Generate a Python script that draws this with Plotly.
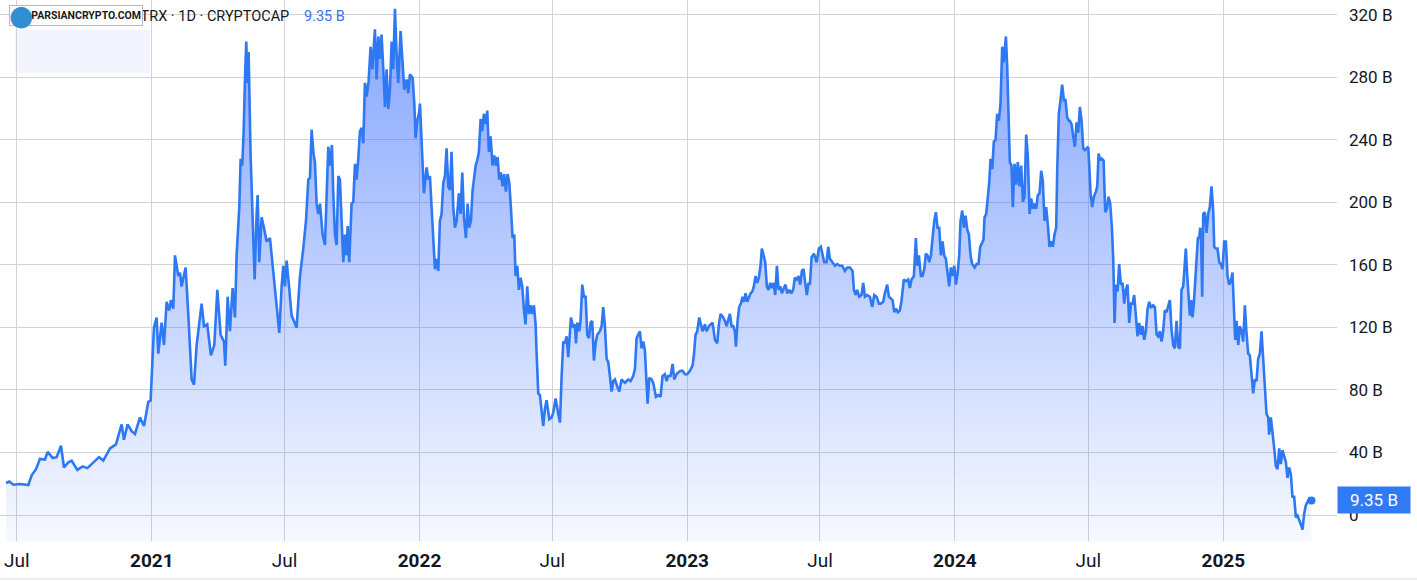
import plotly.graph_objects as go
import pandas as pd

START_DATE = "2020-06-08"

# days since START_DATE
day_offset = [
    8.2, 12.7, 18.2, 27.3, 38.6, 43.2, 49.1, 54.5, 61.3, 65.0,
    71.8, 77.2, 83.2, 87.2, 93.2, 97.7, 105.4, 112.7, 119.1, 127.2,
    135.0, 140.9, 150.0, 158.1, 165.9, 169.0, 174.0, 179.5, 184.0, 190.8,
    196.3, 202.2, 205.4, 209.9, 213.6, 215.8, 220.4, 223.6, 227.2, 230.8,
    233.1, 236.3, 238.6, 243.1, 245.4, 247.6, 253.1, 256.7, 261.3, 264.5,
    268.1, 274.9, 278.1, 282.6, 287.6, 292.2, 296.3, 300.8, 305.4, 307.2,
    310.4, 313.5, 317.2, 320.4, 322.6, 326.3, 328.1, 330.3, 332.2, 334.0,
    335.8, 337.2, 339.0, 341.7, 344.4, 347.2, 349.9, 351.3, 353.5, 356.7,
    359.9, 363.5,
    368.1, 371.7, 374.9, 378.1, 380.8, 384.0, 386.3, 388.5, 390.8, 394.5,
    397.6, 400.8, 404.4, 409.0, 411.3, 413.5, 417.2, 420.4, 422.6, 424.9,
    427.2, 429.4, 431.7, 434.0, 436.3, 439.9, 443.1, 447.6, 449.9, 452.6,
    454.4, 456.7, 459.0, 461.3, 463.5, 465.8, 468.1, 470.3, 472.6, 474.0,
    476.2, 479.4, 481.7, 484.0, 486.2, 488.5, 490.8, 493.1, 495.3, 497.6,
    499.9, 502.6, 505.3, 507.6, 509.0, 511.2, 513.5, 515.8, 518.1, 520.3,
    522.6, 524.9, 527.1, 529.4, 531.7, 534.0, 536.2, 538.5, 540.8, 543.0,
    546.2, 548.9, 551.2, 554.4, 556.7, 558.9, 562.6, 564.9, 566.7, 568.9,
    571.2, 572.6, 574.9, 578.0, 581.7, 583.9, 586.2, 588.5, 590.8, 593.0,
    595.3, 597.6, 599.8, 602.1, 604.4, 606.7, 608.9, 611.2, 613.5, 615.7,
    618.0, 620.3, 622.6, 625.7, 628.0, 630.3, 632.6, 635.3, 637.6, 639.8,
    642.1, 644.4, 646.2, 648.5, 650.7, 653.0, 655.3, 657.6, 659.8, 662.6,
    664.4, 666.6, 668.9, 671.6, 673.9, 676.2, 678.5, 680.7, 683.0, 685.3,
    687.5, 689.8, 692.1, 694.4, 696.6, 698.9, 701.2, 703.0, 705.3, 707.5,
    709.8, 712.1, 714.4, 716.6, 718.9, 721.2, 723.4, 725.7, 728.0, 730.3,
    731.6, 733.9,
    736.2, 738.5, 740.7, 743.0, 745.3, 748.9, 752.1, 754.4, 757.6, 761.2,
    763.5, 765.7, 768.0, 770.3, 772.6, 774.8, 776.2, 778.5, 781.6, 783.9,
    785.3, 787.1, 789.8, 791.6, 793.9, 796.2, 798.5, 800.7, 803.0, 805.3,
    807.5, 809.8, 812.1, 814.4, 818.0, 820.3, 822.5, 824.8, 827.1, 829.4,
    831.6, 833.9, 836.2, 838.4, 841.6, 844.3, 847.5, 852.1, 856.6, 859.8,
    863.4, 865.7, 868.0, 870.2, 872.5, 874.8, 877.1, 879.3, 881.6, 883.0,
    885.2, 888.4, 890.7, 894.3, 897.5, 900.7, 903.4, 906.6, 908.9, 911.1,
    914.3, 917.1, 919.3, 922.5, 924.8, 927.9, 930.7, 933.9, 937.0, 940.7,
    944.3, 946.1, 948.4, 950.7, 953.4, 955.7, 957.9, 961.1, 963.4, 966.6,
    969.3, 971.6, 974.8, 977.9, 980.2, 982.5, 986.1, 988.4, 990.7, 992.9,
    995.2, 997.5, 999.8, 1002.0, 1003.4, 1005.7, 1007.9, 1010.2, 1012.5, 1014.3,
    1016.6, 1018.8, 1021.1, 1023.4, 1025.7, 1027.9, 1030.2, 1032.5, 1034.7, 1037.0,
    1038.8, 1041.1, 1043.4, 1045.6, 1047.9, 1050.2, 1052.5, 1054.7, 1057.0, 1059.3,
    1061.6, 1063.8, 1066.1, 1068.8, 1071.1, 1073.4, 1076.1, 1078.8, 1081.5, 1083.8,
    1086.6, 1088.8, 1091.1, 1093.4, 1095.6, 1097.9, 1100.2, 1102.4,
    1104.3, 1106.6, 1109.8, 1113.4, 1116.6, 1119.3, 1121.6, 1123.8, 1127.0, 1129.3,
    1131.6, 1134.7, 1138.4, 1141.6, 1145.2, 1148.4, 1152.0, 1155.2, 1158.8, 1162.5,
    1164.3, 1166.6, 1168.8, 1171.5, 1174.7, 1177.0, 1179.3, 1182.5, 1186.1, 1189.3,
    1192.0, 1195.2, 1198.4, 1201.1, 1204.3, 1206.5, 1209.7, 1212.0, 1214.3, 1217.0,
    1219.3, 1221.5, 1224.3, 1227.0, 1229.3, 1232.4, 1235.2, 1238.3, 1240.6, 1242.9,
    1246.1, 1248.8, 1250.6, 1252.9, 1255.6, 1257.9, 1260.2, 1262.4, 1264.7, 1267.0,
    1269.3, 1271.5, 1273.8, 1276.1, 1278.3, 1280.6, 1282.9, 1285.2, 1287.4, 1289.7,
    1292.0, 1294.2, 1296.5, 1298.8, 1301.1, 1303.3, 1305.6, 1307.9, 1309.7, 1312.0,
    1314.2, 1316.5, 1318.8, 1321.1, 1323.3, 1325.6, 1328.8, 1331.5, 1334.2, 1336.5,
    1338.8, 1341.0, 1342.4, 1344.7, 1346.9, 1348.8, 1350.6, 1352.9, 1355.1, 1357.4,
    1359.7, 1362.0, 1364.2, 1366.5, 1368.8, 1371.5, 1373.3, 1375.1, 1376.9, 1379.2,
    1381.0, 1383.3, 1385.6, 1387.8, 1390.1, 1392.4, 1394.7, 1396.9, 1399.2, 1401.5,
    1403.8, 1406.0, 1408.3, 1410.6, 1412.8, 1415.1, 1417.4, 1419.7, 1421.9, 1424.2,
    1426.5, 1428.7, 1431.0, 1433.3, 1435.6, 1437.8, 1440.1, 1441.5, 1443.7, 1446.0,
    1448.3, 1450.6, 1452.8, 1455.1, 1457.4,
    1458.8, 1461.1, 1463.3, 1465.6, 1467.9, 1470.2, 1472.4, 1474.7, 1477.0, 1479.2,
    1481.5, 1483.8, 1485.2, 1487.0, 1489.2, 1491.5, 1494.2, 1496.1, 1497.9, 1500.2,
    1502.4, 1504.7, 1507.0, 1509.2, 1511.5, 1513.8, 1516.1, 1517.9, 1519.7, 1521.5,
    1523.8, 1526.0, 1528.3, 1530.6, 1532.9, 1535.1, 1537.4, 1539.7, 1542.0, 1544.2,
    1546.5, 1548.8, 1551.0, 1553.3, 1555.6, 1557.9, 1560.1, 1562.4, 1564.7, 1567.0,
    1569.2, 1572.4, 1574.7, 1577.0, 1579.2, 1581.5, 1583.8, 1586.0, 1588.3, 1590.6,
    1592.8, 1595.1, 1597.4, 1599.7, 1601.9, 1604.2, 1606.5, 1608.8, 1611.0, 1613.3,
    1615.6, 1616.9, 1618.8, 1620.6, 1622.4, 1624.2, 1626.0, 1627.8, 1629.7, 1631.5,
    1633.3, 1635.1, 1636.5, 1637.8, 1639.2, 1640.6, 1642.8, 1645.1, 1647.4, 1649.6,
    1651.9, 1654.2, 1655.6, 1657.8, 1660.1, 1662.4, 1664.6, 1666.9, 1669.2, 1671.5,
    1673.7, 1676.0, 1678.3, 1680.5, 1681.9, 1684.2, 1686.0, 1688.3, 1690.5, 1692.8,
    1695.1, 1697.4, 1699.6, 1701.9, 1704.2, 1706.4, 1708.7, 1711.0, 1713.3, 1715.5,
    1717.8, 1720.1, 1722.4, 1724.6, 1726.9, 1729.2, 1730.5, 1732.8, 1735.1, 1737.4,
    1739.6, 1741.9, 1744.2, 1746.4, 1748.7, 1751.0, 1753.3, 1755.5, 1757.8, 1760.1,
    1762.3, 1764.6, 1766.9, 1769.2, 1771.4, 1773.7, 1776.0, 1778.2, 1780.5, 1782.8,
    1785.1, 1788.2,
]

# market cap, billions USD
value_b = [
    20.5, 21.4, 19.4, 19.8, 19.2, 25.4, 29.3, 35.9, 35.5, 40.4,
    36.4, 37.0, 44.3, 30.4, 33.7, 34.8, 28.9, 31.1, 30.0, 33.7,
    37.0, 34.8, 42.6, 45.2, 58.0, 48.1, 58.0, 53.6, 51.8, 62.4,
    56.9, 72.3, 73.4, 119.7, 126.3, 103.2, 123.0, 108.7, 136.3, 130.8,
    137.4, 131.9, 166.0, 152.8, 155.0, 146.2, 158.3, 128.6, 86.7, 83.3,
    108.7, 135.2, 120.8, 121.9, 102.1, 108.7, 144.0, 115.3, 110.9, 95.5,
    139.6, 117.5, 145.1, 126.3, 166.0, 196.9, 227.8, 223.4, 245.4, 278.5,
    302.7, 276.3, 296.1, 230.0, 185.9, 150.6, 192.5, 204.6, 161.6, 190.3,
    183.7, 174.9,
    177.1, 159.4, 148.4, 130.8, 116.4, 146.2, 159.4, 146.2, 162.7, 144.0,
    127.5, 124.1, 119.7, 152.8, 161.6, 170.4, 188.1, 214.5, 215.6, 246.5,
    232.2, 225.6, 199.1, 192.5, 199.1, 179.3, 172.6, 235.5, 223.4, 236.6,
    205.7, 179.3, 172.6, 216.8, 214.5, 188.1, 161.6, 179.3, 166.0, 184.8,
    161.6, 199.1, 200.2, 224.5, 214.5, 227.8, 245.4, 247.6, 237.7, 276.3,
    267.5, 277.4, 299.4, 285.0, 294.9, 310.5, 278.5, 306.0, 291.7, 307.2,
    285.0, 260.9, 285.0, 259.7, 271.9, 302.7, 285.0, 323.7, 293.9, 276.3,
    309.4, 288.4, 271.9, 278.5, 269.7, 281.8, 279.6, 263.1, 241.0, 252.1,
    256.5, 263.1, 241.0, 205.7, 222.3, 214.5, 216.8, 198.0, 179.3, 157.2,
    163.8, 156.1, 188.1, 192.5, 212.3, 216.8, 234.4, 210.1, 207.9, 232.2,
    196.9, 183.7, 188.1, 205.7, 192.5, 219.0, 190.3, 177.1, 199.1, 183.7,
    188.1, 207.9, 214.5, 223.4, 226.7, 232.2, 253.2, 245.4, 256.5, 250.0,
    258.6, 232.2, 242.1, 223.4, 229.9, 223.4, 228.9, 214.5, 219.0, 210.1,
    218.0, 206.8, 218.0, 212.3, 196.9, 177.1, 179.3, 152.8, 159.4, 144.0,
    151.7, 146.2, 130.8, 121.9, 146.2, 128.6, 134.1, 128.6, 134.1, 121.9,
    104.3, 77.8,
    76.7, 66.8, 56.9, 67.9, 73.4, 61.3, 62.4, 65.7, 74.5, 64.6,
    59.1, 87.8, 110.9, 109.8, 114.2, 101.0, 113.1, 126.3, 119.7, 121.9,
    109.8, 123.0, 117.5, 124.1, 147.3, 139.6, 139.6, 115.3, 113.1, 123.0,
    124.1, 98.8, 109.8, 115.3, 117.5, 120.8, 133.0, 120.8, 99.9, 97.7,
    88.9, 78.9, 85.6, 86.7, 82.2, 78.9, 86.7, 84.5, 86.7, 85.6,
    88.9, 93.3, 113.1, 115.3, 117.5, 106.5, 110.9, 105.4, 86.7, 71.2,
    87.8, 86.7, 84.5, 75.6, 76.7, 75.6, 88.9, 90.0, 85.6, 88.9,
    88.9, 96.6, 86.7, 90.0, 91.1, 92.2, 92.2, 90.0, 90.0, 92.2,
    95.5, 102.1, 115.3, 117.5, 126.3, 121.9, 117.5, 121.9, 117.5, 120.8,
    121.9, 123.0, 112.0, 109.8, 121.9, 128.6, 126.3, 124.1, 120.8, 124.1,
    128.6, 120.8, 120.8, 117.5, 107.6, 124.1, 133.0, 135.2, 139.6, 136.3,
    141.8, 136.3, 139.6, 141.8, 142.9, 146.2, 152.8, 148.4, 151.7, 159.4,
    170.4, 166.0, 161.6, 146.2, 144.0, 148.4, 145.1, 148.4, 140.7, 159.4,
    144.0, 146.2, 141.8, 145.1, 147.3, 141.8, 144.0, 141.8, 144.0, 151.7,
    150.6, 152.8, 147.3, 156.1, 157.2, 148.4, 140.7, 148.4,
    147.3, 164.9, 167.1, 161.6, 170.4, 171.5, 166.0, 161.6, 161.6, 171.5,
    163.8, 161.6, 159.4, 160.5, 159.4, 159.4, 156.1, 158.3, 158.3, 156.1,
    144.0, 140.7, 144.0, 139.6, 140.7, 148.4, 139.6, 140.7, 139.6, 133.0,
    140.7, 139.6, 135.2, 135.2, 136.3, 141.8, 147.3, 139.6, 138.5, 137.4,
    129.7, 131.9, 129.7, 130.8, 137.4, 150.6, 149.5, 150.6, 145.1, 150.6,
    152.8, 177.1, 159.4, 166.0, 152.8, 152.8, 157.2, 167.1, 166.0, 161.6,
    166.0, 177.1, 187.9, 193.6, 183.7, 183.7, 166.0, 174.9, 166.0, 163.8,
    156.1, 146.2, 158.3, 152.8, 159.4, 147.3, 154.0, 166.0, 188.1, 194.7,
    183.7, 191.4, 182.6, 179.3, 166.0, 160.5, 158.3, 160.5, 160.5, 171.5,
    173.7, 176.0, 190.3, 192.5, 203.5, 212.3, 227.8, 221.2, 238.8, 239.9,
    256.5, 252.1, 263.1, 299.4, 289.5, 306.0, 287.3, 263.1, 225.6, 223.4,
    196.9, 224.5, 211.2, 225.6, 210.1, 223.4, 200.2, 203.5, 243.2, 228.9,
    192.5, 202.4, 195.8, 199.1, 195.8, 204.6, 205.7, 220.1, 213.4, 188.1,
    196.9, 185.9, 171.5, 174.9, 171.5, 179.3, 183.7, 220.1, 256.5, 265.3,
    275.2, 265.3, 265.3, 254.3, 252.1,
    252.1, 249.8, 242.1, 235.5, 251.0, 244.4, 260.9, 252.1, 234.4, 233.3,
    234.4, 235.5, 223.4, 205.7, 196.9, 203.5, 206.8, 210.1, 231.1, 226.7,
    227.8, 226.7, 193.6, 195.8, 203.5, 199.1, 183.7, 163.8, 122.8, 147.3,
    142.9, 160.5, 147.3, 148.4, 135.2, 144.0, 147.3, 122.8, 135.2, 135.2,
    140.7, 128.6, 114.2, 122.8, 115.3, 120.8, 112.0, 117.5, 131.9, 136.3,
    133.0, 134.1, 133.0, 115.3, 114.2, 117.5, 110.9, 117.5, 130.8, 129.7,
    133.0, 137.4, 118.6, 108.7, 106.5, 124.1, 107.6, 106.5, 144.0, 146.2,
    161.6, 170.4, 152.8, 139.6, 127.5, 137.4, 126.3, 135.2, 148.4, 159.4,
    177.1, 177.1, 183.7, 174.9, 139.6, 192.5, 193.6, 180.4, 192.5, 196.9,
    210.1, 194.7, 171.5, 170.4, 170.4, 161.6, 160.5, 157.2, 174.9, 174.9,
    152.8, 147.3, 149.5, 155.0, 137.4, 112.0, 124.1, 108.7, 120.8, 117.5,
    110.9, 134.1, 116.4, 103.2, 102.1, 87.8, 77.8, 86.7, 85.6, 99.9,
    103.2, 117.5, 99.9, 82.2, 64.6, 62.4, 51.4, 62.4, 53.6, 42.6,
    31.5, 29.3, 42.6, 32.6, 41.5, 38.1, 33.7, 23.8, 30.4, 26.0,
    11.7, 11.7, -1.5, -0.4, -2.6, -6.0, -9.3, 0.7, 6.2, 8.4,
    10.6, 9.35,
]

x_tick_dates = ["2020-07-01", "2021-01-01", "2021-07-01", "2022-01-01", "2022-07-01",
                "2023-01-01", "2023-07-01", "2024-01-01", "2024-07-01", "2025-01-01"]
x_tick_text = ["Jul", "<b>2021</b>", "Jul", "<b>2022</b>", "Jul",
               "<b>2023</b>", "Jul", "<b>2024</b>", "Jul", "<b>2025</b>"]
y_tick_vals = [0, 40, 80, 120, 160, 200, 240, 280, 320]
y_tick_text = ["0", "40 B", "80 B", "120 B", "160 B", "200 B", "240 B", "280 B", "320 B"]

X_RANGE = ["2020-06-08", "2025-06-05"]
Y_RANGE = [-16.6, 329.3]
LAST_LABEL = "9.35 B"
TITLE = "ETH SOL BNB ADA TRX · 1D · CRYPTOCAP"

LINE = "#2f78f3"
FONT = "Roboto"
W, H = 1417, 582
ML, MR, MT, MB = 0, 80, 0, 41
PW, PH = W - ML - MR, H - MT - MB

assert len(day_offset) == len(value_b)
dates = pd.Timestamp(START_DATE) + pd.to_timedelta(day_offset, unit="D")


def px_x(p):
    return p / PW


def px_y(p):
    return 1 - p / PH


fig = go.Figure()
# baseline at bottom of pane so the area fill reaches the pane bottom
fig.add_trace(go.Scatter(x=dates, y=[Y_RANGE[0]] * len(dates), mode="lines",
                         line=dict(width=0, color="rgba(0,0,0,0)"),
                         hoverinfo="skip", showlegend=False))
fig.add_trace(go.Scatter(
    x=dates, y=value_b, mode="lines", fill="tonexty",
    line=dict(color=LINE, width=2.6),
    fillgradient=dict(type="vertical", start=Y_RANGE[0], stop=Y_RANGE[1],
                      colorscale=[[0, "rgba(41,98,255,0.04)"],
                                  [1, "rgba(41,98,255,0.58)"]]),
    showlegend=False))
fig.add_trace(go.Scatter(x=[dates[-1]], y=[value_b[-1]], mode="markers",
                         marker=dict(color=LINE, size=8), showlegend=False))

fig.update_xaxes(type="date", range=X_RANGE, tickvals=x_tick_dates, ticktext=x_tick_text,
                 showgrid=True, gridcolor="#d3d3d3", gridwidth=1, zeroline=False,
                 showline=False, ticks="", ticklabelstandoff=6, automargin=False,
                 tickfont=dict(family=FONT, size=19, color="#131722"))
fig.update_yaxes(side="right", range=Y_RANGE, tickvals=y_tick_vals, ticktext=y_tick_text,
                 showgrid=True, gridcolor="#d3d3d3", gridwidth=1, zeroline=False,
                 showline=False, ticks="", ticklabelstandoff=11, automargin=False,
                 tickfont=dict(family=FONT, size=17, color="#131722"))

shapes = [
    # pale legend background
    dict(type="rect", xref="paper", yref="paper", x0=px_x(15), x1=px_x(150),
         y0=px_y(73), y1=px_y(30), fillcolor="#f2f5fe", line=dict(width=0), layer="below"),
    # widget bottom border
    dict(type="line", xref="paper", yref="paper", x0=0, x1=W / PW, y0=px_y(579), y1=px_y(579),
         line=dict(color="#eeeeee", width=2)),
]

annotations = [
    dict(xref="paper", yref="paper", x=px_x(291), y=px_y(17), xanchor="right", yanchor="middle",
         text=TITLE, showarrow=False, font=dict(family=FONT, size=14.5, color="#131722")),
    dict(xref="paper", yref="paper", x=px_x(302), y=px_y(17), xanchor="left", yanchor="middle",
         text=LAST_LABEL, showarrow=False, font=dict(family=FONT, size=14.5, color="#2f78f3")),
    # watermark box
    dict(xref="paper", yref="paper", x=px_x(9), y=px_y(5), xanchor="left", yanchor="top",
         text="<b>PARSIANCRYPTO.COM</b>", showarrow=False, width=130, height=17, align="right",
         bgcolor="white", bordercolor="#b8b8b8", borderwidth=1, borderpad=1,
         font=dict(family=FONT, size=10.5, color="#1a1a1a")),
    dict(xref="paper", yref="paper", x=px_x(21), y=px_y(15), xanchor="center", yanchor="middle",
         text="●", showarrow=False, font=dict(family="DejaVu Sans", size=28, color="#2f8fd0")),
    # last value label on the price scale
    dict(xref="paper", yref="y", x=1.0, y=value_b[-1], xanchor="left", yanchor="middle",
         text=LAST_LABEL, showarrow=False, bgcolor="#2f7bf5", borderpad=3, width=66,
         font=dict(family=FONT, size=17, color="white")),
]

fig.update_layout(width=W, height=H, margin=dict(l=ML, r=MR, t=MT, b=MB),
                  paper_bgcolor="white", plot_bgcolor="white",
                  shapes=shapes, annotations=annotations, showlegend=False,
                  font=dict(family=FONT))

# remove the default 8px page margin so the figure sits at the window's corner
fig.write_html("out.html", config={"displayModeBar": False},
               post_script="document.body.style.margin='0px';")
